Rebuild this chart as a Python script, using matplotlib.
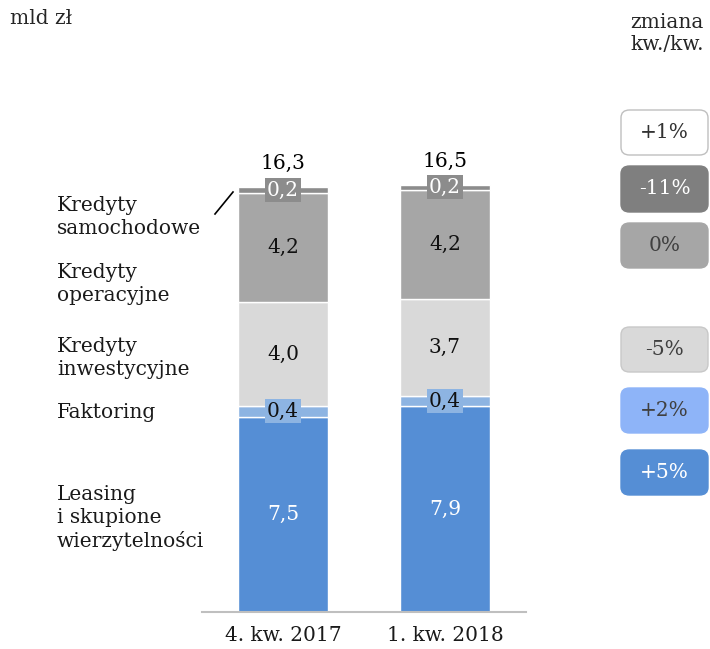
import matplotlib
matplotlib.use("Agg")
import matplotlib.pyplot as plt
from matplotlib.patches import FancyBboxPatch
import numpy as np

plt.rcParams['font.family'] = ['DejaVu Serif']

categories = ["4. kw. 2017", "1. kw. 2018"]
series_names = ["Leasing\ni skupione\nwierzytelności", "Faktoring", "Kredyty\ninwestycyjne",
                "Kredyty\noperacyjne", "Kredyty\nsamochodowe"]
leasing = [7.5, 7.9]
faktoring = [0.4, 0.4]
inwestycyjne = [4.0, 3.7]
operacyjne = [4.2, 4.2]
samochodowe = [0.2, 0.2]
totals = [16.3, 16.5]
changes = ["+5%", "+2%", "-5%", "0%", "-11%"]
total_change = "+1%"

series = [leasing, faktoring, inwestycyjne, operacyjne, samochodowe]
colors = ["#558ED5", "#8DB4E2", "#D9D9D9", "#A6A6A6", "#8C8C8C"]
label_colors = ["white", "#111111", "#111111", "#111111", "white"]

W, H = 710, 649
fig = plt.figure(figsize=(W/100, H/100), dpi=100)
ax = fig.add_axes([202/W, (H-612)/H, (526-202)/W, 521/H])
x = np.arange(len(categories))
bottom = np.zeros(len(categories))
fs = 14.5
for vals, col, lc in zip(series, colors, label_colors):
    v = np.array(vals)
    ax.bar(x, v, 0.55, bottom=bottom, color=col, edgecolor="white", linewidth=1.0)
    for xi, b, vi in zip(x, bottom, v):
        s = f"{vi:.1f}".replace(".", ",")
        if vi < 1:
            yc = b + vi/2
            ax.text(xi, yc, s, ha="center", va="center", fontsize=fs, color=lc,
                    bbox=dict(boxstyle="square,pad=0.12", fc=col, ec="none"))
        else:
            ax.text(xi, b + vi/2, s, ha="center", va="center", fontsize=fs, color=lc)
    bottom = bottom + v

for xi, t, b in zip(x, totals, bottom):
    ax.text(xi, b + 0.55, f"{t:.1f}".replace(".", ","), ha="center", va="bottom",
            fontsize=fs, color="black")

ax.set_xlim(-0.5, 1.5)
ax.set_ylim(0, 20)
ax.set_xticks(x)
ax.set_xticklabels(categories, fontsize=fs, color="#1a1a1a")
ax.tick_params(axis="x", length=0, pad=10)
ax.set_yticks([])
for sp in ["left", "right", "top"]:
    ax.spines[sp].set_visible(False)
ax.spines["bottom"].set_color("#BFBFBF")
ax.spines["bottom"].set_linewidth(1.5)

# left category labels
left_pos = [(57, 518), (57, 413), (57, 358), (57, 284), (57, 217)]
for name, (px, py) in zip(series_names, left_pos):
    fig.text(px/W, 1 - py/H, name, ha="left", va="center", fontsize=fs,
             color="#1a1a1a", linespacing=1.25)
fig.add_artist(plt.Line2D([215/W, 233/W], [1-214/H, 1-192/H], color="black", lw=1.2))

fig.text(10/W, 1 - 19/H, "mld zł", ha="left", va="center", fontsize=fs, color="#262626")
fig.text(667/W, 1 - 33/H, "zmiana\nkw./kw.", ha="center", va="center", fontsize=fs,
         color="#262626", linespacing=1.2)

# change boxes
boxes = [(total_change, 110, 155, "white", "#BFBFBF", "#333333"),
         (changes[4], 166, 212, "#7F7F7F", "#7F7F7F", "white"),
         (changes[3], 223, 268, "#A6A6A6", "#A6A6A6", "#404040"),
         (changes[2], 327, 372, "#D9D9D9", "#C8C8C8", "#404040"),
         (changes[1], 388, 433, "#8EB4F8", "#8EB4F8", "#404040"),
         (changes[0], 450, 495, "#558ED5", "#558ED5", "white")]
for txt, y0, y1, fc, ec, tc in boxes:
    x0, x1 = 621, 708
    p = FancyBboxPatch((x0/W, 1 - y1/H), (x1-x0)/W, (y1-y0)/H,
                       boxstyle="round,pad=0,rounding_size=0.012",
                       transform=fig.transFigure, fc=fc, ec=ec, lw=1)
    fig.add_artist(p)
    fig.text((x0+x1)/2/W, 1 - (y0+y1)/2/H, txt, ha="center", va="center",
             fontsize=fs, color=tc)

fig.savefig("out.png", dpi=100)
